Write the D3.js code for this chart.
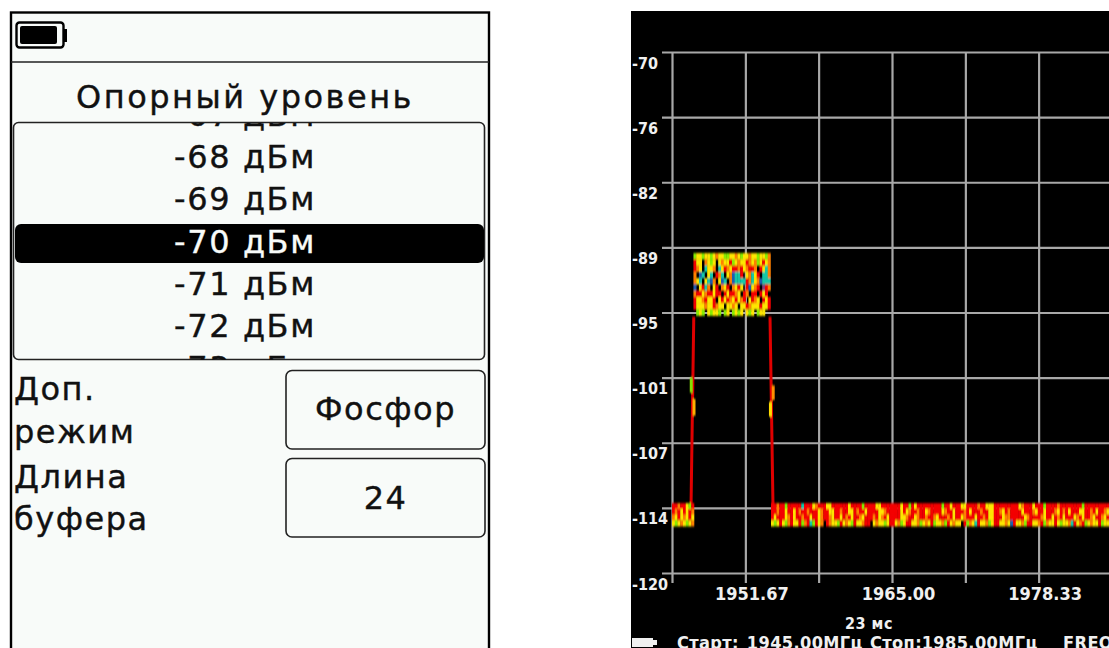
<!DOCTYPE html>
<html>
<head>
<meta charset="utf-8">
<script src="https://cdn.jsdelivr.net/npm/d3@7"></script>
<style>
html,body{margin:0;padding:0;background:#fff;overflow:hidden;}
svg{display:block;}
text{font-family:"DejaVu Sans",sans-serif;}
.lcd text,text.lcd{font-family:"DejaVu Sans Condensed","DejaVu Sans",sans-serif;font-stretch:condensed;font-weight:bold;fill:#f0f0f0;}
</style>
</head>
<body>
<svg id="chart" width="1109" height="648"></svg>
<script>
//left screen
var titleText = "Опорный уровень";
var levelValues = [-67,-68,-69,-70,-71,-72,-73];
var levelSelected = -70;
var levelUnit = " дБм";
var optionLabels = [["Доп.","режим"],["Длина","буфера"]];
var optionValues = ["Фосфор","24"];

//right screen
var dbTicks = [-70,-76.25,-82.5,-88.75,-95,-101.25,-107.5,-113.75,-120];
var dbLabels = ["-70","-76","-82","-89","-95","-101","-107","-114","-120"];
var freqTicks = [1945,1951.67,1958.33,1965,1971.67,1978.33];
var freqLabels = ["","1951.67","","1965.00","","1978.33"];
var sweepLabel = "23 мс";
var statusLabels = ["Старт:","1945.00МГц","Стоп:","1985.00МГц","FREQ"];
var statusFreqs = [1945.45,1951.8,1963,1967.7,1980.55];

//phosphor cells, one letter per 0.25 MHz
var cellColors = {R:"#f40000",O:"#ff8000",Y:"#ffe600",G:"#88ec00",T:"#14c8a8",B:"#1f5fb0",P:"#8a3a80"};
var humpStartFreq = 1946.95;
var humpTopDb = -89.3;
var humpRowDb = 0.6;
var humpRows = [
	"GYYGYYGYOYYGGYYOYGYYOYYGYYGO",
	"RYYKOYGYKYOYYRGYOYYROYOGYRYO",
	"ROYKTYYOKTYROYRRORYORROKRYTO",
	"OKBTKYTKROTKYOBTTRKYOTYRKTTO",
	"OYTKYTBOKYBTKOBTTTTROTYOBTTT",
	"BKYRTOKYRKOYRKOYRYKRBYORKPRO",
	"ORRYORRYRRKRYRROYKROKRRKRYRK",
	"RYYORYYRKYRYROYRYORKYROYKRYR",
	"RYYYOYYROYYKYYOYKYYROYYYRYYR",
	"KGYGKYGYYGKGYKGYGYKYGYKGYYKK"
];
var floorTopDb = -113.3;
var floorRowDb = 0.55;
var floorLeftFreq = 1945;
var floorLeftRows = [
	"RRORRYGR",
	"RORYRYRO",
	"OYRYOYRY",
	"YGYOYGYO"
];
var floorRightFreq = 1954;
var floorRightRows = [
	"RRORRGRRRRRTRRRYORRRYYRRRRRRYRRRRGRRRRYYRRRRRRRYRRGRYRRRRRRRRRGRRYRRRYYRRRRORRYYYRRRRRRRRRYORRRYRRRGRRRRORRRRRRRRGRRRRRRRRRR",
	"RRORRYRRYRORRORRRYORRYYRRORRYYRORRYRRRRYYORRRRRYRYORRORRYORRRRYORRYRRRORYRRRORRYYRROYRORRRRYRRROYRRYRRROYRORYRRRYYRRORYRROYR",
	"RYRRRYORYRRORRYRRYORROYRRYRORYRROYRRRORYORYRRRRYYORRYORRORROYRRRORYRRYORRRYRRORYYRRRYOORRRRRYORRRROYRRYRORYRRRYORYRROYRROYRY",
	"YGYRYGORYYRGORTGRYOKROYYGRYOYGRYYORRKYOYYGYRRYOGYRRYYOGYOYRGYYOGRYOYYKRGOYTRYYOGYRRYYOYBRYYOGRRYYORGOYYRYGYYOTRYORGYOYYRGYYOYG"
];
var edgeLeft = [[1946.98,-95.4],[1946.73,-113.5]];
var edgeRight = [[1953.91,-95.4],[1954.18,-113.5]];
var edgeAccents = [
	{freq:1946.75,dbTop:-101.25,dbBottom:-102.7,color:"#86e000"},
	{freq:1947.0,dbTop:-103.3,dbBottom:-104.9,color:"#ffb000"},
	{freq:1954.2,dbTop:-102.0,dbBottom:-103.4,color:"#ff9000"},
	{freq:1953.95,dbTop:-103.6,dbBottom:-105.0,color:"#ffdc00"}
];

var svg = d3.select("#chart");

function roundPanel(g,x,y,w,h,r){
	return g.append("rect").attr("x",x).attr("y",y).attr("width",w).attr("height",h).attr("rx",r).attr("ry",r);
}

function drawLeftScreen(){
	var g = svg.append("g");
	g.append("rect").attr("x",11).attr("y",12.5).attr("width",478).attr("height",640)
		.attr("fill","#f8fbf9").attr("stroke","#000").attr("stroke-width",2.4);
	g.append("line").attr("x1",11).attr("x2",489).attr("y1",62).attr("y2",62).attr("stroke","#222").attr("stroke-width",1.6);

	//battery
	roundPanel(g,16.5,22.5,47,25,3).attr("fill","none").attr("stroke","#000").attr("stroke-width",2.4);
	roundPanel(g,20,26,37,18,2).attr("fill","#000");
	g.append("rect").attr("x",63).attr("y",29).attr("width",4).attr("height",13).attr("fill","#000");

	g.append("text").attr("x",245).attr("y",108).attr("text-anchor","middle")
		.attr("font-size",32).attr("letter-spacing",2.5).attr("fill","#111").attr("stroke","#111").attr("stroke-width",0.4).text(titleText);

	//list with scrolled values
	svg.append("clipPath").attr("id","listClip").append("rect").attr("x",14).attr("y",123).attr("width",471).attr("height",237);
	roundPanel(g,13.5,122.5,471,237,5).attr("fill","none").attr("stroke","#222").attr("stroke-width",1.6);
	var y = d3.scaleLinear().domain([-68,-72]).range([168,337]);
	var list = g.append("g").attr("clip-path","url(#listClip)");
	roundPanel(list,15,224,469,39,6).attr("fill","#000");
	list.selectAll("text").data(levelValues).enter().append("text")
		.attr("x",245).attr("y",function(d){return y(d);})
		.attr("text-anchor","middle").attr("font-size",32).attr("letter-spacing",1.6)
		.attr("fill",function(d){return d===levelSelected?"#f8fbf9":"#111";})
		.attr("stroke",function(d){return d===levelSelected?"#f8fbf9":"#111";}).attr("stroke-width",0.4)
		.text(function(d){return d+levelUnit;});

	//options
	var baselines = [[400,443],[488,530]];
	optionLabels.forEach(function(lines,i){
		lines.forEach(function(t,j){
			g.append("text").attr("x",14).attr("y",baselines[i][j])
				.attr("font-size",32).attr("letter-spacing",1.5).attr("fill","#111").attr("stroke","#111").attr("stroke-width",0.4).text(t);
		});
	});
	var buttonTops = [370.5,458.5];
	var valueBaselines = [420,509];
	optionValues.forEach(function(t,i){
		roundPanel(g,286,buttonTops[i],199,78.5,6).attr("fill","none").attr("stroke","#222").attr("stroke-width",1.6);
		g.append("text").attr("x",385.5).attr("y",valueBaselines[i]).attr("text-anchor","middle")
			.attr("font-size",32).attr("letter-spacing",1.5).attr("fill","#111").attr("stroke","#111").attr("stroke-width",0.4).text(t);
	});
}

function drawRightScreen(){
	var g = svg.append("g");
	g.append("rect").attr("x",631).attr("y",11).attr("width",478).attr("height",637).attr("fill","#000");

	var x = d3.scaleLinear().domain([1945,1985]).range([672,1112]);
	var y = d3.scaleLinear().domain([-70,-120]).range([52,573]);

	//gridlines are the axis ticks, stretched over the plot
	var xAxis = g.append("g").attr("class","lcd").attr("transform","translate(0,573)")
		.call(d3.axisBottom(x).tickValues(freqTicks).tickSizeInner(10).tickSizeOuter(0).tickPadding(4)
			.tickFormat(function(d,i){return freqLabels[i];}));
	xAxis.select(".domain").remove();
	xAxis.selectAll("line").attr("y1",-521).attr("stroke","#a8a8a8").attr("stroke-width",2.2);
	xAxis.selectAll("text").attr("dx",6).attr("font-size",18);

	var yAxis = g.append("g").attr("class","lcd").attr("transform","translate(672,0)")
		.call(d3.axisLeft(y).tickValues(dbTicks).tickSizeInner(10).tickSizeOuter(0)
			.tickFormat(function(d,i){return dbLabels[i];}));
	yAxis.select(".domain").remove();
	yAxis.selectAll("line").attr("x2",-10).attr("x1",440).attr("stroke","#a8a8a8").attr("stroke-width",2.2);
	yAxis.selectAll("text").attr("x",-40).attr("dy","1.0em").attr("text-anchor","start").attr("font-size",16);

	//slight blur like the photographed screen
	var filter = svg.append("filter").attr("id","soft");
	filter.append("feGaussianBlur").attr("stdDeviation","0.5 0.8");
	var marks = g.append("g").attr("filter","url(#soft)");

	var edgeLine = d3.line().x(function(d){return x(d[0]);}).y(function(d){return y(d[1]);});
	[edgeLeft,edgeRight].forEach(function(e){
		marks.append("path").attr("d",edgeLine(e)).attr("fill","none").attr("stroke","#e00000").attr("stroke-width",3);
	});
	marks.selectAll("line.accent").data(edgeAccents).enter().append("line").attr("class","accent")
		.attr("x1",function(d){return x(d.freq);}).attr("x2",function(d){return x(d.freq);})
		.attr("y1",function(d){return y(d.dbTop);}).attr("y2",function(d){return y(d.dbBottom);})
		.attr("stroke",function(d){return d.color;}).attr("stroke-width",3);

	drawCells(marks,x,y,humpRows,humpStartFreq,humpTopDb,humpRowDb);
	drawCells(marks,x,y,floorLeftRows,floorLeftFreq,floorTopDb,floorRowDb);
	drawCells(marks,x,y,floorRightRows,floorRightFreq,floorTopDb,floorRowDb);

	g.append("text").attr("class","lcd").attr("x",869).attr("y",629).attr("text-anchor","middle").attr("font-size",16)
		.attr("letter-spacing",0.5).text(sweepLabel);

	//status line, cut by the bottom of the picture
	g.selectAll("text.status").data(statusLabels).enter().append("text").attr("class","status lcd")
		.attr("x",function(d,i){return x(statusFreqs[i]);}).attr("y",649)
		.attr("font-size",18).attr("letter-spacing",0.4).text(function(d){return d;});
	g.append("rect").attr("x",632).attr("y",638).attr("width",21).attr("height",9).attr("fill","#f0f0f0");
	g.append("rect").attr("x",653).attr("y",640).attr("width",4).attr("height",5).attr("fill","#f0f0f0");
}

//one rect per coloured letter, K is empty
function drawCells(g,x,y,rows,startFreq,topDb,rowDb){
	var cells = [];
	rows.forEach(function(row,r){
		row.split("").forEach(function(c,i){
			if(c==="K") return;
			cells.push({freq:startFreq+i*0.25,db:topDb-r*rowDb,color:cellColors[c]});
		});
	});
	g.append("g").selectAll("rect").data(cells).enter().append("rect")
		.attr("x",function(d){return x(d.freq);})
		.attr("y",function(d){return y(d.db);})
		.attr("width",x(1945.25)-x(1945)+0.3)
		.attr("height",y(-70-rowDb)-y(-70)+0.3)
		.attr("fill",function(d){return d.color;});
}

drawLeftScreen();
drawRightScreen();
</script>
</body>
</html>
